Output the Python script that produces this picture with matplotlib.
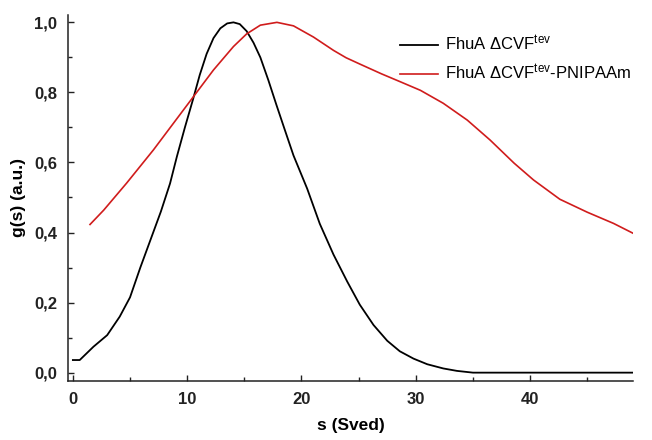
import matplotlib
matplotlib.use("Agg")
import matplotlib.pyplot as plt
from matplotlib.ticker import MultipleLocator, FixedLocator, FixedFormatter

# Sedimentation coefficient distributions g(s)
s_native = [0.0, 0.6, 1.8, 3.0, 4.1, 5.0, 5.9, 6.8, 7.7, 8.5, 9.1, 9.8, 10.5,
            11.1, 11.7, 12.3, 12.9, 13.5, 14.05, 14.6, 15.2, 15.8, 16.4, 17.1,
            17.8, 18.5, 19.3, 20.5, 21.6, 22.8, 24.0, 25.1, 26.3, 27.5, 28.6,
            29.8, 31.0, 32.4, 33.6, 35.0, 40.0, 45.0, 49.0]
g_native = [0.036, 0.036, 0.074, 0.107, 0.160, 0.215, 0.300, 0.380, 0.460,
            0.540, 0.617, 0.700, 0.779, 0.850, 0.910, 0.955, 0.983, 0.997,
            1.000, 0.995, 0.975, 0.942, 0.900, 0.835, 0.765, 0.697, 0.620,
            0.525, 0.425, 0.337, 0.260, 0.194, 0.136, 0.091, 0.061, 0.040,
            0.024, 0.012, 0.005, 0.000, 0.000, 0.000, 0.000]

s_pnipaam = [1.5, 2.7, 4.7, 7.05, 8.8, 10.55, 12.3, 14.05, 15.2, 16.4, 17.85,
             19.3, 21.05, 22.8, 23.9, 25.1, 27.0, 28.6, 30.4, 32.4, 34.5, 36.5,
             38.6, 40.3, 42.6, 45.0, 47.3, 49.0]
g_pnipaam = [0.423, 0.464, 0.541, 0.636, 0.712, 0.788, 0.864, 0.931, 0.967,
             0.992, 1.000, 0.990, 0.958, 0.920, 0.899, 0.881, 0.853, 0.831,
             0.806, 0.769, 0.721, 0.664, 0.598, 0.550, 0.495, 0.458, 0.426,
             0.398]

labels = ["FhuA \u0394CVF$^{tev}$", "FhuA \u0394CVF$^{tev}$-PNIPAAm"]
x_ticks = [0, 10, 20, 30, 40]
y_ticks = [0.0, 0.2, 0.4, 0.6, 0.8, 1.0]
y_tick_labels = ["0,0", "0,2", "0,4", "0,6", "0,8", "1,0"]

plt.rcParams["font.family"] = ["Liberation Sans", "DejaVu Sans"]
plt.rcParams["mathtext.default"] = "regular"

fig = plt.figure(figsize=(6.52, 4.40), dpi=100)
ax = fig.add_axes([68.3 / 652, 1 - 380.7 / 440, (633 - 68.3) / 652, (380.7 - 15) / 440])

ax.plot(s_native, g_native, color="black", lw=1.3, label=labels[0])
ax.plot(s_pnipaam, g_pnipaam, color="#d01c1c", lw=1.2, label=labels[1])

ax.set_xlim(-0.4, 49.0)
ax.set_ylim(-0.023, 1.021)

ax.xaxis.set_major_locator(FixedLocator(x_ticks))
ax.xaxis.set_minor_locator(MultipleLocator(5))
ax.yaxis.set_major_locator(FixedLocator(y_ticks))
ax.yaxis.set_major_formatter(FixedFormatter(y_tick_labels))
ax.yaxis.set_minor_locator(MultipleLocator(0.1))

for side in ("top", "right"):
    ax.spines[side].set_visible(False)
for side in ("left", "bottom"):
    ax.spines[side].set_linewidth(1.1)
    ax.spines[side].set_color("#222222")

ax.tick_params(which="major", direction="in", length=4.5, width=1.0,
               pad=8, labelsize=12, colors="#222222")
ax.tick_params(which="minor", direction="in", length=2.6, width=1.0,
               colors="#222222")
for lab in ax.get_xticklabels() + ax.get_yticklabels():
    lab.set_fontweight("bold")

ax.set_xlabel("s (Sved)", fontsize=12.5, fontweight="bold", labelpad=8)
ax.set_ylabel("g(s) (a.u.)", fontsize=12.5, fontweight="bold", labelpad=6)

leg = ax.legend(loc="upper left", bbox_to_anchor=(400 / 652, 1 - 34 / 440),
                bbox_transform=fig.transFigure, frameon=False, fontsize=12,
                handlelength=2.3, handletextpad=0.4, borderpad=0,
                borderaxespad=0, labelspacing=0.55)

fig.savefig("out.png", dpi=100)
